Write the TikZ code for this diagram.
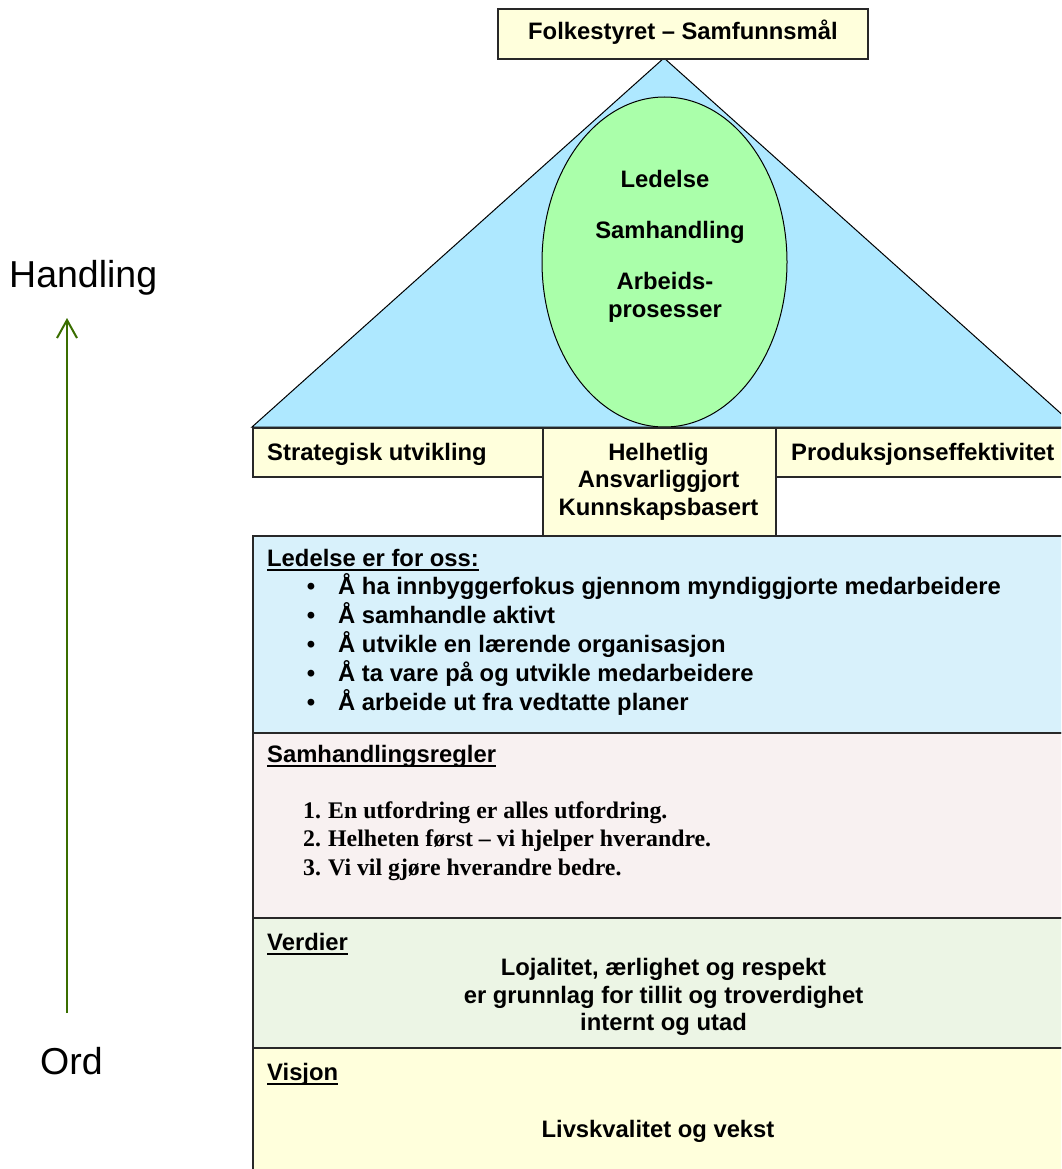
\documentclass[tikz,border=0pt]{standalone}
\usepackage{fontspec}
\setmainfont{Liberation Sans}
\newfontfamily\timesfam{Liberation Serif}
\usetikzlibrary{shapes.geometric,arrows.meta}
\definecolor{boxyellow}{RGB}{255,255,220}
\definecolor{triblue}{RGB}{174,232,255}
\definecolor{ellgreen}{RGB}{170,255,170}
\definecolor{secblue}{RGB}{216,241,251}
\definecolor{secpink}{RGB}{248,241,241}
\definecolor{secgreen}{RGB}{236,245,229}
\definecolor{arrowgreen}{RGB}{58,110,0}
\definecolor{edgegray}{RGB}{40,40,40}
\newcommand{\myul}[1]{\setbox0\hbox{#1}\rlap{\rule[-5pt]{\wd0}{1.8pt}}\box0}
\begin{document}
\begin{tikzpicture}[x=1pt,y=-1pt,
  boxst/.style={draw=edgegray, line width=1.8pt, fill=boxyellow, inner sep=0pt, anchor=north west},
  secbox/.style={draw=edgegray, line width=1.8pt, inner sep=0pt, anchor=north west},
  txt/.style={font=\fontsize{23.8}{27.5}\selectfont\bfseries, inner sep=0pt},
  lbl/.style={txt, anchor=base west},
  ctr/.style={txt, anchor=base},
  serif/.style={font=\fontsize{23.8}{27.5}\selectfont\timesfam\bfseries, inner sep=0pt, anchor=base west},
  side/.style={font=\fontsize{37.5}{41}\selectfont, inner sep=0pt, anchor=base west}
]
\clip (0,0) rectangle (1061,1169);

% triangle
\draw[fill=triblue, draw=black, line width=1pt] (664,58) -- (252,427) -- (1076,427) -- cycle;
% ellipse
\node[ellipse, draw=black, line width=1pt, fill=ellgreen, minimum width=245, minimum height=330, inner sep=0pt] (ell) at (664.5,262) {};
% top box
\node[boxst, minimum width=370, minimum height=50] (topbox) at (497,8) {};
\node[lbl] (toptxt) at (528,40) {Folkestyret – Samfunnsmål};

% ellipse text
\node[ctr] (e1) at (665,187) {Ledelse};
\node[ctr] (e2) at (670,238.5) {Samhandling};
\node[ctr] (e3) at (665,289.5) {Arbeids-};
\node[ctr] (e4) at (665,317) {prosesser};

% row boxes
\node[boxst, minimum width=290, minimum height=49] (strat) at (252,427) {};
\node[boxst, minimum width=233, minimum height=108] (helh) at (542,427) {};
\node[boxst, minimum width=300, minimum height=49] (prod) at (775,427) {};
\node[lbl] (strattxt) at (267,460) {Strategisk utvikling};
\node[ctr] (h1) at (658.5,460) {Helhetlig};
\node[ctr] (h2) at (658.5,487.5) {Ansvarliggjort};
\node[ctr] (h3) at (658.5,515) {Kunnskapsbasert};
\node[lbl] (prodtxt) at (791,460) {Produksjonseffektivitet};

% sections
\node[secbox, fill=secblue, minimum width=818, minimum height=197] (led) at (252,535) {};
\node[secbox, fill=secpink, minimum width=818, minimum height=185] (sam) at (252,732) {};
\node[secbox, fill=secgreen, minimum width=818, minimum height=130] (ver) at (252,917) {};
\node[secbox, fill=boxyellow, minimum width=818, minimum height=140] (vis) at (252,1047) {};

% Ledelse section
\node[lbl] (ledh) at (267,566) {\myul{Ledelse er for oss:}};
\node[ctr] (b1) at (311,594) {•};
\node[ctr] (b2) at (311,623) {•};
\node[ctr] (b3) at (311,652) {•};
\node[ctr] (b4) at (311,681) {•};
\node[ctr] (b5) at (311,710) {•};
\node[lbl] (l1) at (338,594) {Å ha innbyggerfokus gjennom myndiggjorte medarbeidere};
\node[lbl] (l2) at (338,623) {Å samhandle aktivt};
\node[lbl] (l3) at (338,652) {Å utvikle en lærende organisasjon};
\node[lbl] (l4) at (338,681) {Å ta vare på og utvikle medarbeidere};
\node[lbl] (l5) at (338,710) {Å arbeide ut fra vedtatte planer};

% Samhandlingsregler
\node[lbl] (samh) at (267,762) {\myul{Samhandlingsregler}};
\node[serif] (n1) at (303,818) {1.};
\node[serif] (n2) at (303,846.5) {2.};
\node[serif] (n3) at (303,875) {3.};
\node[serif] (r1) at (328,818) {En utfordring er alles utfordring.};
\node[serif] (r2) at (328,846.5) {Helheten først – vi hjelper hverandre.};
\node[serif] (r3) at (328,875) {Vi vil gjøre hverandre bedre.};

% Verdier
\node[lbl] (verh) at (267,950) {\myul{Verdier}};
\node[ctr] (v1) at (663.5,975.5) {Lojalitet, ærlighet og respekt};
\node[ctr] (v2) at (663.5,1003) {er grunnlag for tillit og troverdighet};
\node[ctr] (v3) at (663.5,1030.5) {internt og utad};

% Visjon
\node[lbl] (vish) at (267,1080) {\myul{Visjon}};
\node[ctr] (vistxt) at (658,1137) {Livskvalitet og vekst};

% left side
\node[side] (handling) at (9,287) {Handling};
\node[side] (ord) at (40,1074) {Ord};
\coordinate (abot) at (67,1013);
\coordinate (atop) at (67,318);
\draw[arrowgreen, line width=2pt, -{Straight Barb[length=18pt,width=20pt,line width=2pt]}] (abot) -- (atop);
\end{tikzpicture}
\end{document}
